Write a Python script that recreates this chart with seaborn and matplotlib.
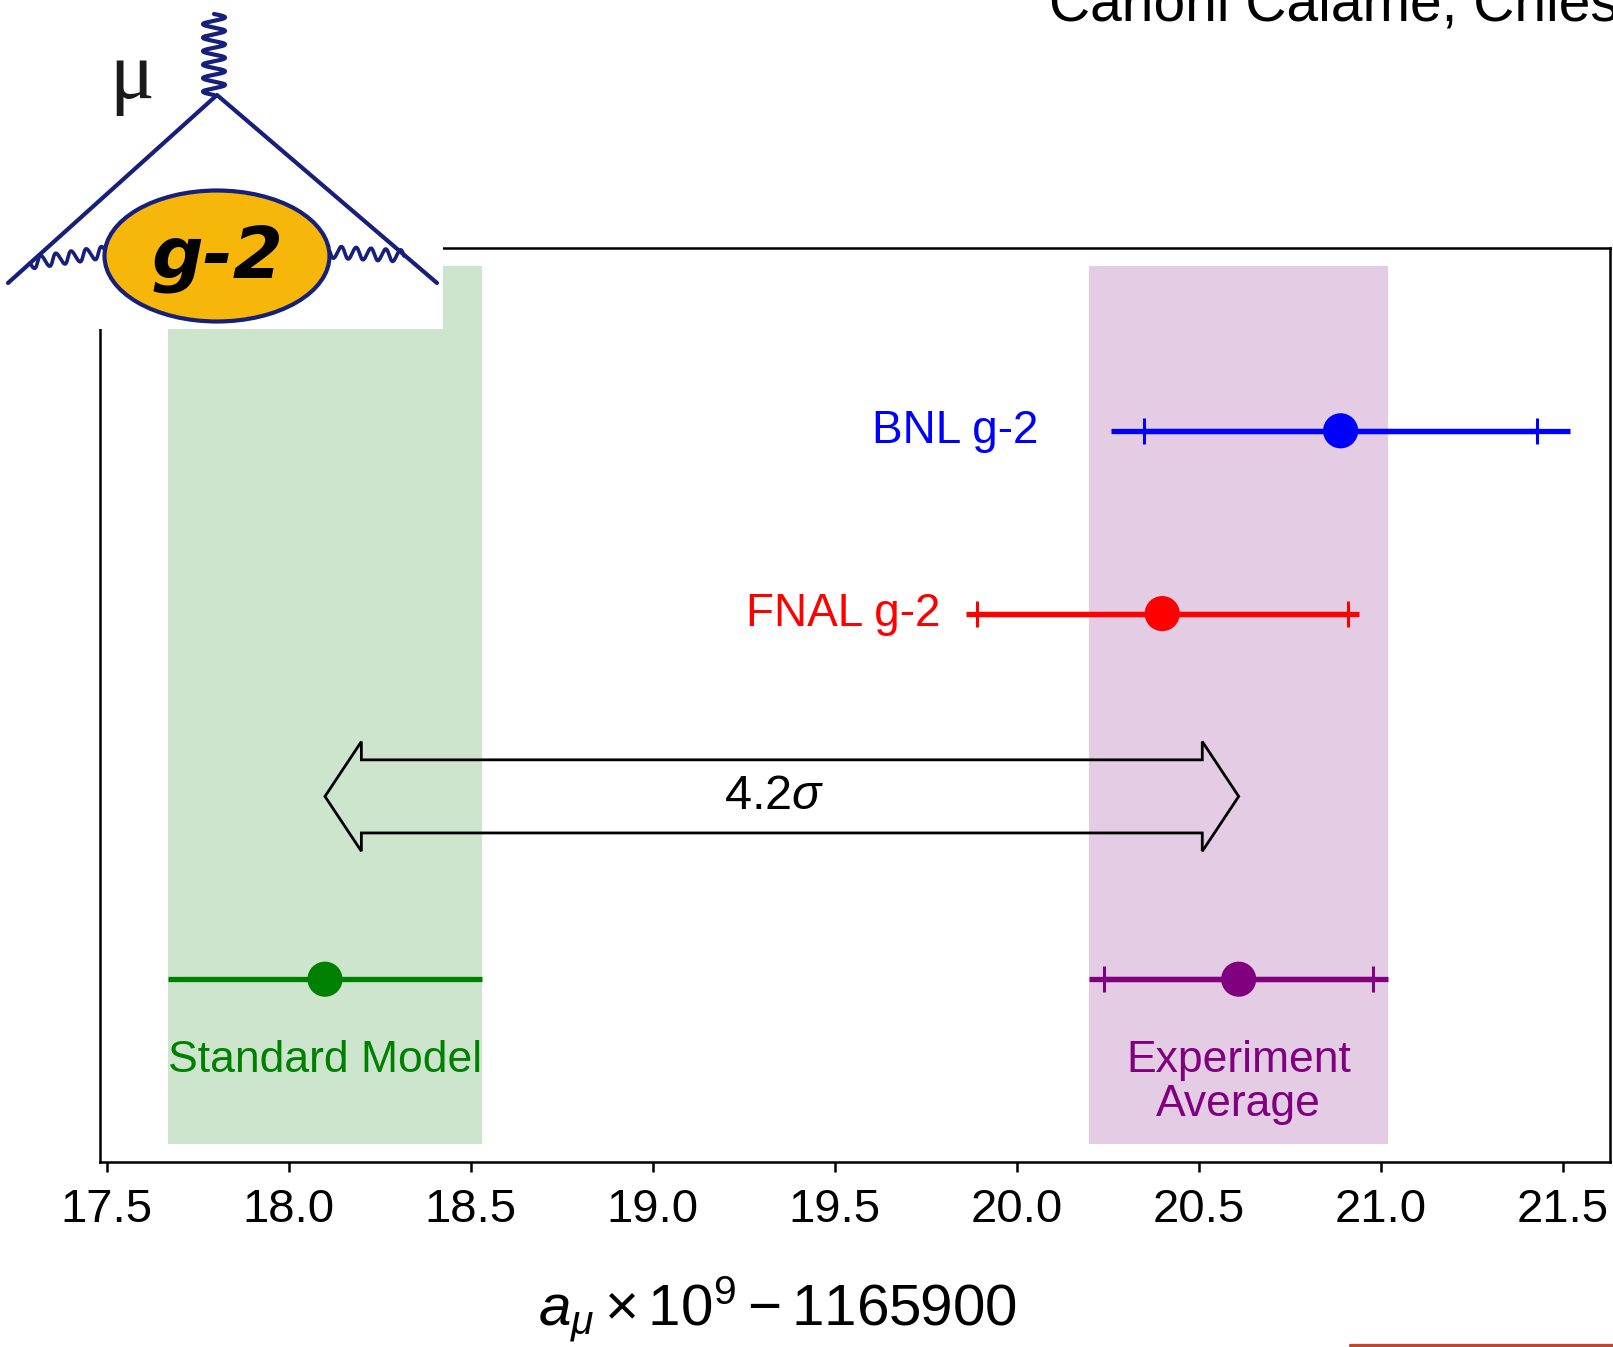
import numpy as np
import pandas as pd
import matplotlib
matplotlib.use("Agg")
import matplotlib.pyplot as plt
import matplotlib.patches as mpatches
from matplotlib.lines import Line2D
import seaborn as sns

# a_mu x 10^9 - 1165900
names = ["BNL g-2", "FNAL g-2", "Standard Model", "Experiment Average"]
values = [20.89, 20.40, 18.10, 20.61]
err_total = [0.63, 0.54, 0.43, 0.41]
err_inner = [0.54, 0.51, np.nan, 0.37]
colors = ["blue", "red", "green", "purple"]
tension = r"$4.2\sigma$"
xticks = [17.5, 18.0, 18.5, 19.0, 19.5, 20.0, 20.5, 21.0, 21.5]

sns.set_style("ticks")
plt.rcParams["font.family"] = ["Liberation Sans", "DejaVu Sans"]
plt.rcParams["mathtext.fontset"] = "custom"
plt.rcParams["mathtext.rm"] = "Liberation Sans"
plt.rcParams["mathtext.it"] = "Liberation Sans:italic"
plt.rcParams["mathtext.bf"] = "Liberation Sans:bold"
plt.rcParams["text.color"] = "black"
plt.rcParams["axes.labelcolor"] = "black"

W, H = 1613, 1347
fig = plt.figure(figsize=(W / 100, H / 100), dpi=100)
ax = fig.add_axes([100 / W, 1 - 1162 / H, 1510 / W, 914 / H])

rows = [4, 3, 1, 1]
df = pd.DataFrame({"name": names, "value": values, "total": err_total,
                   "inner": err_inner, "row": rows})
pal = dict(zip(names, colors))

# shaded bands for theory and experimental average
for i in (2, 3):
    ax.axvspan(values[i] - err_total[i], values[i] + err_total[i],
               ymin=0.02, ymax=0.98, color=colors[i], alpha=0.2, lw=0, zorder=0)

for _, r in df.iterrows():
    c = pal[r["name"]]
    ax.errorbar(r["value"], r["row"], xerr=r["total"], fmt="none",
                ecolor=c, elinewidth=3.8, capsize=0, zorder=3)
    if not np.isnan(r["inner"]):
        ax.errorbar(r["value"], r["row"], xerr=r["inner"], fmt="none",
                    ecolor=c, elinewidth=3.8, capsize=9.5, capthick=2.2, zorder=3)

sns.scatterplot(data=df, x="value", y="row", hue="name", palette=pal,
                s=640, linewidth=0, legend=False, zorder=5, ax=ax)

# double arrow between SM and experiment average
x0, x1, yc = values[2], values[3], 2.0
bh, hh, hl = 0.2, 0.3, 0.1
verts = [(x0, yc), (x0 + hl, yc + hh), (x0 + hl, yc + bh), (x1 - hl, yc + bh),
         (x1 - hl, yc + hh), (x1, yc), (x1 - hl, yc - hh), (x1 - hl, yc - bh),
         (x0 + hl, yc - bh), (x0 + hl, yc - hh)]
ax.add_patch(mpatches.Polygon(verts, closed=True, fill=False, ec="black",
                              lw=2.0, joinstyle="miter", zorder=4))
ax.text((x0 + x1) / 2 - 0.02, yc, tension, ha="center", va="center", fontsize=35)

ax.text(20.06, 4, names[0], color=colors[0], ha="right", va="center", fontsize=33)
ax.text(19.79, 3, names[1], color=colors[1], ha="right", va="center", fontsize=33)
ax.text(values[2], 0.67, names[2], color=colors[2], ha="center", va="top", fontsize=32)
ax.text(values[3], 0.67, "Experiment\nAverage", color=colors[3], ha="center",
        va="top", fontsize=32, linespacing=1.12)

ax.set_xlim(17.482, 21.63)
ax.set_ylim(0, 5)
ax.set_yticks([])
ax.set_xticks(xticks)
ax.set_xticklabels([f"{t:.1f}" for t in xticks])
ax.set_ylabel("")
ax.set_xlabel(r"$a_\mu \times 10^9 - 1165900$", fontsize=42)
ax.xaxis.set_label_coords(0.449, -0.123)
ax.tick_params(axis="x", labelsize=34, length=7.5, width=1.8, pad=11,
               color="black", labelcolor="black")
for s in ax.spines.values():
    s.set_color("black")
    s.set_linewidth(1.8)

# logo in the top left corner
lax = fig.add_axes([0, 1 - 329 / H, 443 / W, 329 / H], zorder=10)
lax.set_xlim(0, 443)
lax.set_ylim(329, 0)
lax.set_facecolor("white")
for s in lax.spines.values():
    s.set_visible(False)
lax.set_xticks([])
lax.set_yticks([])
navy = "#16207A"
lax.plot([8, 217, 437], [283, 95, 283], color=navy, lw=3.0,
         solid_capstyle="round", zorder=2)
t = np.linspace(0, 1, 600)
lax.plot(214 + 11 * np.sin(2 * np.pi * 6 * t), 14 + 81 * t, color=navy, lw=3.0, zorder=2)
for (ax0, ay0), (ax1, ay1) in [((30, 263), (106, 252)), ((330, 252), (404, 256))]:
    dx, dy = ax1 - ax0, ay1 - ay0
    L = np.hypot(dx, dy)
    nx, ny = -dy / L, dx / L
    w = 6 * np.sin(2 * np.pi * 5 * t)
    lax.plot(ax0 + dx * t + nx * w, ay0 + dy * t + ny * w, color=navy, lw=2.6, zorder=2)
lax.add_patch(mpatches.Ellipse((217, 256), 225, 131, fc="#F6B60A", ec=navy,
                               lw=3.0, zorder=3))
lax.text(218, 279, "g-2", ha="center", va="baseline", fontsize=52,
         fontweight="bold", fontstyle="italic", family="DejaVu Sans",
         color="black", zorder=4)
lax.text(132, 98, "\u03bc", ha="center", va="baseline", fontsize=60,
         family="Liberation Serif", color="#1a1a1a", zorder=4)

# slide decorations
fig.text(1049 / W, 1 - 20 / H, "Carloni Calame, Chiesa", fontsize=41,
         ha="left", va="baseline", color="black")
fig.add_artist(Line2D([1350 / W, 1], [1.8 / H, 1.8 / H], color="#BF4630", lw=2.4))

fig.savefig("out.png", dpi=100)
